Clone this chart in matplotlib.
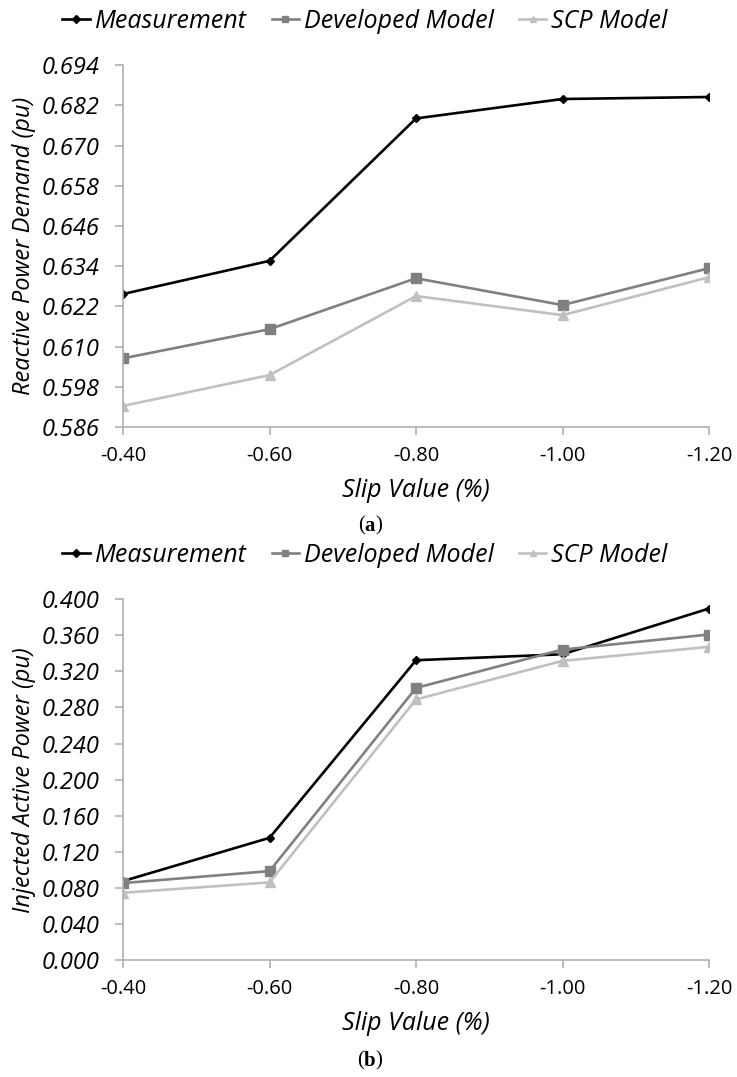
import matplotlib.pyplot as plt
import numpy as np

plt.rcParams['font.family'] = ['Open Sans', 'DejaVu Sans']

slip = ['-0.40', '-0.60', '-0.80', '-1.00', '-1.20']
series = ['Measurement', 'Developed Model', 'SCP Model']

# (a) reactive power demand (pu)
q_meas = [0.6257, 0.6356, 0.6781, 0.6839, 0.6845]
q_dev = [0.6065, 0.6152, 0.6304, 0.6224, 0.6334]
q_scp = [0.5923, 0.6015, 0.6251, 0.6194, 0.6307]

# (b) injected active power (pu)
p_meas = [0.0875, 0.1355, 0.3324, 0.3390, 0.3897]
p_dev = [0.0853, 0.0986, 0.3017, 0.3442, 0.3609]
p_scp = [0.0746, 0.0861, 0.2889, 0.3317, 0.3472]

styles = [dict(color='black', marker='D', ms=4.5),
          dict(color='#808080', marker='s', ms=7),
          dict(color='#c0c0c0', marker='^', ms=7)]

axis_col = '#b0b0b0'


def draw(ax, data, yticks, ylabel):
    x = np.arange(len(slip))
    for vals, name, st in zip(data, series, styles):
        ax.plot(x, vals, lw=1.9, label=name, markeredgecolor=st['color'], **st)
    ax.set_xlim(0, len(slip) - 1)
    ax.set_ylim(yticks[0], yticks[-1])
    ax.set_xticks(x)
    ax.set_xticklabels(slip, fontsize=14.5)
    ax.set_yticks(yticks)
    ax.set_yticklabels(['%.3f' % v for v in yticks], fontsize=17, style='italic')
    for s in ['top', 'right']:
        ax.spines[s].set_visible(False)
    for s in ['left', 'bottom']:
        ax.spines[s].set_color(axis_col)
        ax.spines[s].set_linewidth(1.2)
    ax.tick_params(axis='both', colors=axis_col, labelcolor='black', length=6, width=1.2)
    ax.tick_params(axis='x', pad=8)
    ax.tick_params(axis='y', pad=11)
    ax.set_ylabel(ylabel, fontsize=17, style='italic', labelpad=4)
    ax.set_xlabel('Slip Value (%)', fontsize=18, style='italic', labelpad=8)
    h = ax.get_position().height * 1077
    ax.legend(loc='center left', bbox_to_anchor=(-0.104, 1 + 44 / h), ncol=3, frameon=False,
              prop={'style': 'italic', 'size': 18}, handlelength=1.1, borderpad=0,
              handletextpad=0.2, columnspacing=1.0, borderaxespad=0)
    for line in ax.get_legend().get_lines():
        line.set_markersize(4)


def caption(fig, letter, ypix):
    # "(x)" with a bold letter, pieces placed side by side
    r = fig.canvas.get_renderer()
    kw = dict(family='Liberation Serif', fontsize=15, va='center')
    y = 1 - ypix / 1077
    parts = [('(', 'normal'), (letter, 'bold'), (')', 'normal')]
    texts = [fig.text(0, y, s, weight=w, **kw) for s, w in parts]
    widths = [t.get_window_extent(r).width / fig.bbox.width for t in texts]
    x = 370 / 737 - sum(widths) / 2
    for t, w in zip(texts, widths):
        t.set_x(x)
        x += w


fig = plt.figure(figsize=(7.37, 10.77), dpi=100)

ax1 = fig.add_axes([0.167, 0.6035, 0.795, 0.336])
draw(ax1, [q_meas, q_dev, q_scp], np.round(np.arange(0.586, 0.6941, 0.012), 3),
     'Reactive Power Demand (pu)')

ax2 = fig.add_axes([0.167, 0.1086, 0.795, 0.335])
draw(ax2, [p_meas, p_dev, p_scp], np.round(np.arange(0.0, 0.4001, 0.04), 3),
     'Injected Active Power (pu)')

caption(fig, 'a', 526)
caption(fig, 'b', 1061)

fig.savefig('out.png', dpi=100)
